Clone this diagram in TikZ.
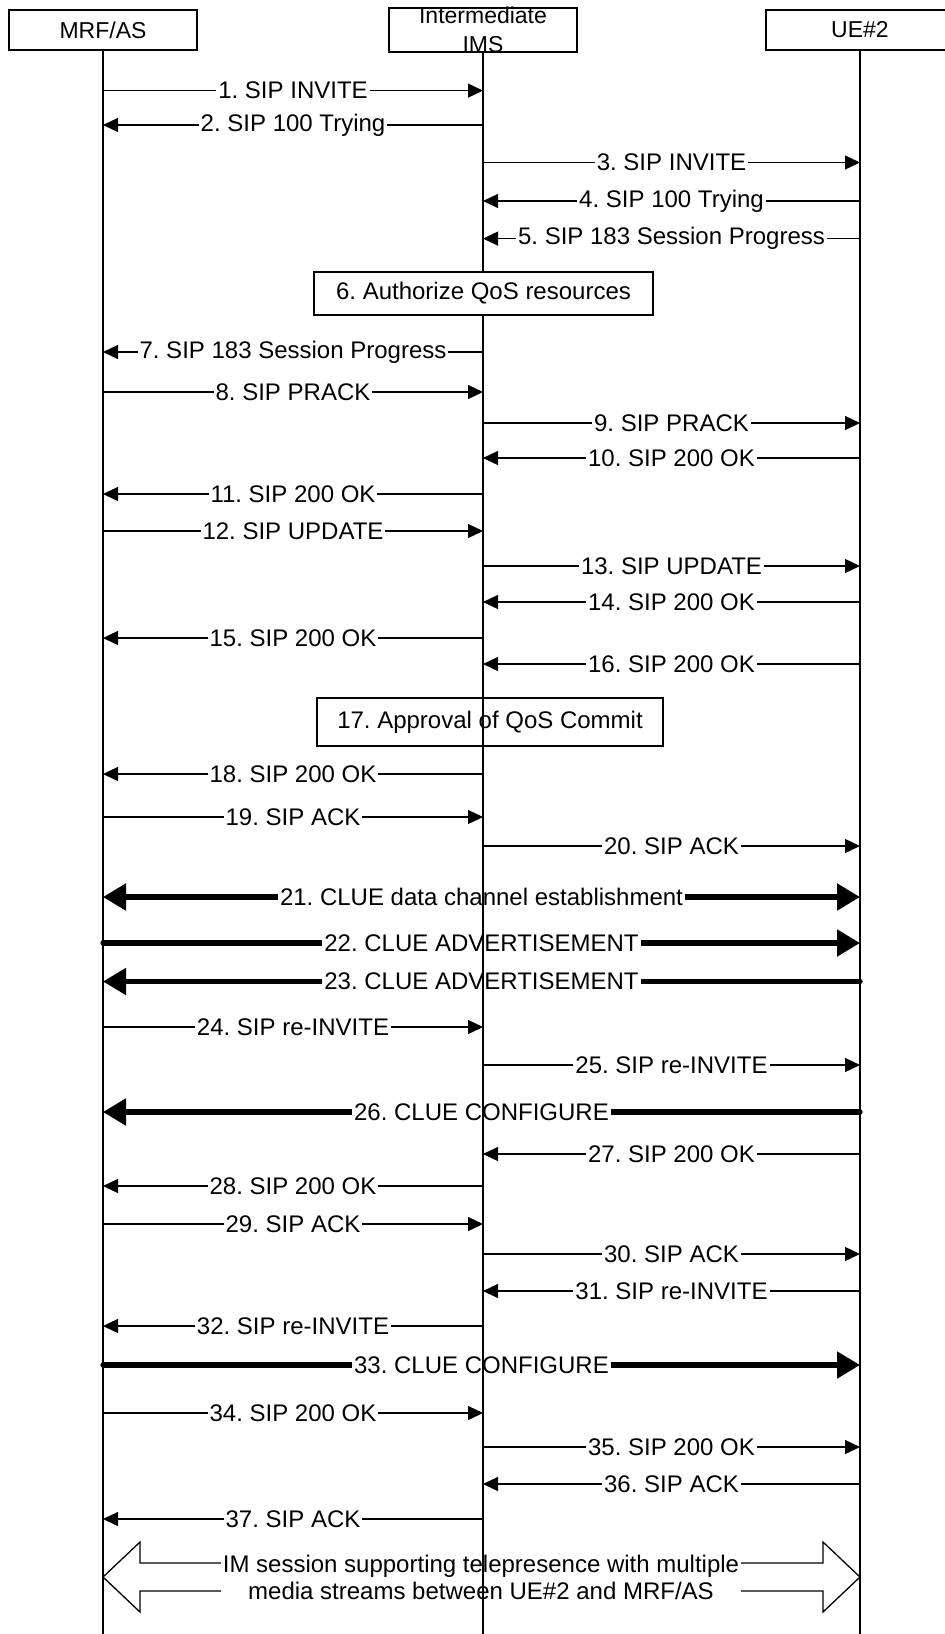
\documentclass[tikz,border=0pt]{standalone}
\usepackage{fontspec}
\setmainfont{Liberation Sans}
\usetikzlibrary{arrows.meta, positioning}

\begin{document}
\frenchspacing
\begin{tikzpicture}[x=0.5pt, y=-0.5pt,
    font=\fontsize{12}{13.5}\selectfont,
    entity/.style={draw, line width=0.65pt, fill=white, minimum width=94pt, minimum height=20pt, inner sep=0pt,
      font=\fontsize{11.5}{13.5}\selectfont},
    msg/.style={line width=0.65pt, -{Triangle[length=7.5pt, width=7pt]}},
    cluemsg/.style={line width=2.6pt, line cap=round},
    bighead/.tip={Triangle[length=11.5pt, width=13pt]},
    lbl/.style={fill=white, inner xsep=1pt, inner ysep=1pt},
    action/.style={draw, line width=0.65pt, fill=white, inner sep=0pt}]
  \useasboundingbox (0,0) rectangle (945,1634);

  % entities
  \node[entity] (mrf) at (103,30) {MRF/AS};
  \node[entity, minimum height=22pt] (ims) at (483,30) {};
  \node[align=center, font=\fontsize{11.5}{14.5}\selectfont] (imstext) at (ims) {Intermediate\\IMS};
  \node[entity] (ue) at (860,30) {UE\#2};

  % thin messages
  \foreach \y/\a/\b/\t in {90.6/mrf/ims/{1. SIP INVITE}, 125/ims/mrf/{2. SIP 100 Trying},
      162.5/ims/ue/{3. SIP INVITE}, 201/ue/ims/{4. SIP 100 Trying},
      238.6/ue/ims/{5. SIP 183 Session Progress}, 352/ims/mrf/{7. SIP 183 Session Progress},
      392/mrf/ims/{8. SIP PRACK}, 423/ims/ue/{9. SIP PRACK},
      458/ue/ims/{10. SIP 200 OK}, 494/ims/mrf/{11. SIP 200 OK},
      531/mrf/ims/{12. SIP UPDATE}, 566/ims/ue/{13. SIP UPDATE},
      602/ue/ims/{14. SIP 200 OK}, 638/ims/mrf/{15. SIP 200 OK},
      664/ue/ims/{16. SIP 200 OK}, 774/ims/mrf/{18. SIP 200 OK},
      817/mrf/ims/{19. SIP ACK}, 846/ims/ue/{20. SIP ACK},
      1027/mrf/ims/{24. SIP re-INVITE}, 1065/ims/ue/{25. SIP re-INVITE},
      1154/ue/ims/{27. SIP 200 OK}, 1186/ims/mrf/{28. SIP 200 OK},
      1224/mrf/ims/{29. SIP ACK}, 1254/ims/ue/{30. SIP ACK},
      1291/ue/ims/{31. SIP re-INVITE}, 1326/ims/mrf/{32. SIP re-INVITE},
      1413/mrf/ims/{34. SIP 200 OK}, 1447/ims/ue/{35. SIP 200 OK},
      1484/ue/ims/{36. SIP ACK}, 1519/ims/mrf/{37. SIP ACK}}
    \draw[msg] (\a.south |- 0,\y) -- node[lbl] {\t} (\b.south |- 0,\y);

  % CLUE messages
  \draw[cluemsg, bighead-bighead] (mrf.south |- 0,897) -- node[lbl] {21. CLUE data channel establishment} (ue.south |- 0,897);
  \draw[cluemsg, -bighead] (mrf.south |- 0,943) -- node[lbl] {22. CLUE ADVERTISEMENT} (ue.south |- 0,943);
  \draw[cluemsg, -bighead] (ue.south |- 0,981.5) -- node[lbl] {23. CLUE ADVERTISEMENT} (mrf.south |- 0,981.5);
  \draw[cluemsg, -bighead] (ue.south |- 0,1112) -- node[lbl] {26. CLUE CONFIGURE} (mrf.south |- 0,1112);
  \draw[cluemsg, -bighead] (mrf.south |- 0,1365) -- node[lbl] {33. CLUE CONFIGURE} (ue.south |- 0,1365);

  % session arrow
  \draw[line width=0.65pt] (mrf.south |- 0,1577) -- (140,1542) -- (140,1563) -- (823,1563) -- (823,1542)
    -- (ue.south |- 0,1577) -- (823,1612) -- (823,1591) -- (140,1591) -- (140,1612) -- cycle;
  \node[lbl, align=center] (session) at (481,1577) {IM session supporting telepresence with multiple\\media streams between UE\#2 and MRF/AS};

  \node[action, minimum width=173pt, minimum height=24pt] (commit) at (490,722) {17. Approval of QoS Commit};

  % lifelines
  \foreach \n in {mrf,ims,ue}
    \draw[line width=0.65pt] (\n) -- (\n |- 0,1634);

  \node[action, minimum width=169.5pt, minimum height=21.5pt] (authorize) at (483.5,293.5) {6. Authorize QoS resources};
\end{tikzpicture}
\end{document}
